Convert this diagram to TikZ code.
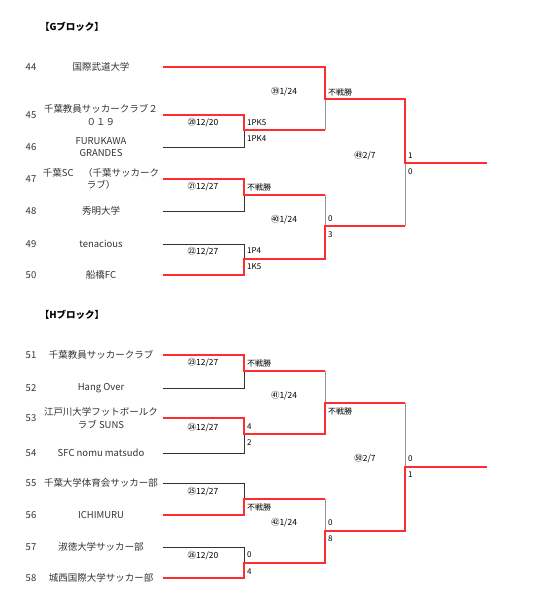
\documentclass[tikz,border=0pt]{standalone}
\usepackage{fontspec}
\setmainfont{Noto Sans CJK JP}
\usetikzlibrary{calc}
\definecolor{winred}{RGB}{255,45,45}
\tikzset{
  win/.style={winred,line width=1.8pt},
  lose/.style={black!80,line width=0.8pt},
  idle/.style={gray!80,line width=0.9pt},
  team/.style={font=\fontsize{9.5}{12.5}\selectfont,text=black!80,align=center,inner sep=0pt},
  seed/.style={font=\fontsize{9.5}{11}\selectfont,text=black!80,inner sep=0pt},
  score/.style={font=\fontsize{8}{9}\selectfont,anchor=west,inner sep=0pt},
  match/.style={font=\fontsize{8.5}{10}\selectfont,inner sep=0pt},
  blockhead/.style={font=\bfseries\fontsize{9.5}{11}\selectfont,inner sep=0pt}
}
\begin{document}
\begin{tikzpicture}[x=1pt,y=-1pt]
\useasboundingbox (0,0) rectangle (535,598);
% Gブロック
\node[blockhead] (gHead) at (72,27) {【Gブロック】};
\foreach \n/\y/\name in {44/67/国際武道大学,45/115/{千葉教員サッカークラブ２\\０１９},
    46/147/{FURUKAWA\\GRANDES},47/179/{千葉SC　（千葉サッカーク\\ラブ）},
    48/211/秀明大学,49/244/tenacious,50/275/船橋FC}{
  \node[seed] (n\n) at (31,\y) {\n};
  \node[team] (name\n) at (101,\y) {\name};
  \coordinate (t\n) at (163,\y);
}
\coordinate (gA) at (244,130);
\coordinate (gB) at (244,195);
\coordinate (gC) at (244,259);
\coordinate (gD) at (325,99);
\coordinate (gE) at (325,226);
\coordinate (gF) at (405,163);
\coordinate (gW) at (487,163);
% 負け側
\draw[lose] (t46) -| (gA);
\draw[lose] (t48) -| (gB);
\draw[lose] (t49) -| (gC);
\draw[idle] (gD) -- (gA -| gD);
\draw[idle] (gB -| gE) -- (gE);
\draw[idle] (gE -| gF) -- (gF);
% 勝ち上がり
\draw[win] (t44) -| (gD) -- (gF |- gD) -- (gF) -- (gW);
\draw[win] (t45) -| (gA) -- (gA -| gD);
\draw[win] (t47) -| (gB) -- (gB -| gE);
\draw[win] (t50) -| (gC) -- (gC -| gE) -- (gE) -- (gE -| gF);
% 試合
\node[match] (gm1) at (203,123) {⑳12/20};
\node[match] (gm2) at (203,187) {㉑12/27};
\node[match] (gm3) at (203,252) {㉒12/27};
\node[match] (gm4) at (284,92) {㊴1/24};
\node[match] (gm5) at (284,220) {㊵1/24};
\node[match] (gm6) at (365,156) {㊾2/7};
% スコア
\node[score] at (247,123) {1PK5};
\node[score] at (247,139) {1PK4};
\node[score] at (247,187) {不戦勝};
\node[score] at (247,251) {1P4};
\node[score] at (247,267) {1K5};
\node[score] at (328,92) {不戦勝};
\node[score] at (328,219) {0};
\node[score] at (328,235) {3};
\node[score] at (408,156) {1};
\node[score] at (408,172) {0};
% Hブロック
\node[blockhead] (hHead) at (72,315) {【Hブロック】};
\foreach \n/\y/\name in {51/355/千葉教員サッカークラブ,52/388/Hang Over,
    53/418/{江戸川大学フットボールク\\ラブ SUNS},54/453/SFC nomu matsudo,
    55/483/千葉大学体育会サッカー部,56/515/ICHIMURU,
    57/547/淑徳大学サッカー部,58/578/城西国際大学サッカー部}{
  \node[seed] (n\n) at (31,\y) {\n};
  \node[team] (name\n) at (101,\y) {\name};
  \coordinate (t\n) at (163,\y);
}
\coordinate (hA) at (244,371);
\coordinate (hB) at (244,434);
\coordinate (hC) at (244,499);
\coordinate (hD) at (244,563);
\coordinate (hE) at (325,403);
\coordinate (hF) at (325,531);
\coordinate (hG) at (405,467);
\coordinate (hW) at (487,467);
% 負け側
\draw[lose] (t52) -| (hA);
\draw[lose] (t54) -| (hB);
\draw[lose] (t55) -| (hC);
\draw[lose] (t57) -| (hD);
\draw[idle] (hA -| hE) -- (hE);
\draw[idle] (hC -| hF) -- (hF);
\draw[idle] (hE -| hG) -- (hG);
% 勝ち上がり
\draw[win] (t51) -| (hA) -- (hA -| hE);
\draw[win] (t53) -| (hB) -- (hB -| hE) -- (hE) -- (hE -| hG);
\draw[win] (t56) -| (hC) -- (hC -| hF);
\draw[win] (t58) -| (hD) -- (hD -| hF) -- (hF) -- (hF -| hG) -- (hG) -- (hW);
% 試合
\node[match] (hm1) at (203,363) {㉓12/27};
\node[match] (hm2) at (203,428) {㉔12/27};
\node[match] (hm3) at (203,492) {㉕12/27};
\node[match] (hm4) at (203,556) {㉖12/20};
\node[match] (hm5) at (284,396) {㊶1/24};
\node[match] (hm6) at (284,523) {㊷1/24};
\node[match] (hm7) at (365,459) {㊿2/7};
% スコア
\node[score] at (247,363) {不戦勝};
\node[score] at (247,427) {4};
\node[score] at (247,443) {2};
\node[score] at (247,507) {不戦勝};
\node[score] at (247,555) {0};
\node[score] at (247,572) {4};
\node[score] at (328,411) {不戦勝};
\node[score] at (328,523) {0};
\node[score] at (328,539) {8};
\node[score] at (408,459) {0};
\node[score] at (408,475) {1};
\end{tikzpicture}
\end{document}
